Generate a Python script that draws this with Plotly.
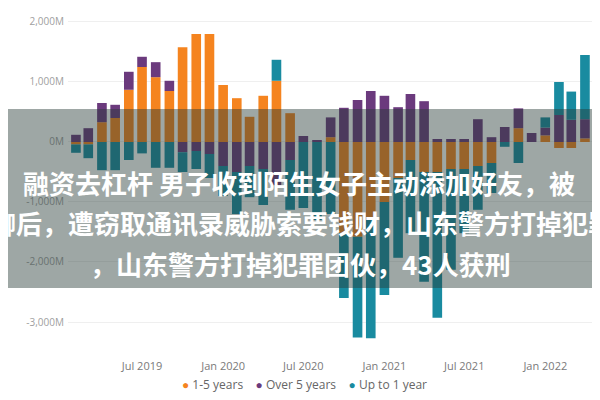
import plotly.graph_objects as go

# monthly buckets, Feb 2019 .. Apr 2022
months = ["2019-02-01", "2019-03-01", "2019-04-01", "2019-05-01", "2019-06-01",
          "2019-07-01", "2019-08-01", "2019-09-01", "2019-10-01", "2019-11-01",
          "2019-12-01", "2020-01-01", "2020-02-01", "2020-03-01", "2020-04-01",
          "2020-05-01", "2020-06-01", "2020-07-01", "2020-08-01", "2020-09-01",
          "2020-10-01", "2020-11-01", "2020-12-01", "2021-01-01", "2021-02-01",
          "2021-03-01", "2021-04-01", "2021-05-01", "2021-06-01", "2021-07-01",
          "2021-08-01", "2021-09-01", "2021-10-01", "2021-11-01", "2021-12-01",
          "2022-01-01", "2022-02-01", "2022-03-01", "2022-04-01"]

# values in millions
one_to_five = [-40, -40, 330, 400, 870, 1250, 1080, 850, 1580, 1800,
               1800, 950, 730, 420, 770, 1020, 480, 0, 0, 80,
               -1520, -1580, -1300, -1000, -600, -300, -500, -500, -450, -450,
               -400, -350, 0, 230, 0, 110, -100, -100, 60]
over_five = [120, 230, 320, 220, 300, 170, 250, 170, -170, -150,
             -200, -400, -500, -400, -450, -720, -300, 100, 20, 330,
             570, 700, 850, 770, 580, 800, 680, 50, 50, 50,
             380, 80, 250, 330, 150, 130, 450, 370, 320]
up_to_one = [-140, -230, -470, -470, -300, -190, -430, -430, -330, -300,
             -400, -500, -700, -520, -600, 350, -830, -1100, -1300, -1200,
             -1080, -1680, -1970, -1550, -1330, -1220, -1830, -2430, -1680, -1070,
             -730, -500, -80, -350, 0, 170, 550, 470, 1070]

series_names = ["1-5 years", "Over 5 years", "Up to 1 year"]
series_colours = ["#F5841F", "#6B3A7D", "#198BA0"]

y_ticks = [-3000, -2000, -1000, 0, 1000, 2000]
y_ticktext = ["{:,}M".format(v) for v in y_ticks]

title_lines = ["融资去杠杆 男子收到陌生女子主动添加好友，被",
               "聊后，遭窃取通讯录威胁索要钱财，山东警方打掉犯罪",
               "，山东警方打掉犯罪团伙，43人获刑"]


fig = go.Figure()

for name, values, colour in zip(series_names,
                                [one_to_five, over_five, up_to_one],
                                series_colours):
    fig.add_trace(go.Bar(x=months,
                         y=values,
                         name=name,
                         marker=dict(color=colour, line=dict(width=0)),
                         showlegend=False))

# the page body adds 8px of margin top/left, so the margins below allow for it
fig.update_layout(barmode="relative",
                  bargap=0.22,
                  width=600, height=400,
                  margin=dict(l=60, r=16, t=0, b=53),
                  paper_bgcolor="white",
                  plot_bgcolor="white",
                  font=dict(family="Open Sans", size=11, color="#777777"))

fig.update_xaxes(type="date",
                 range=["2019-01-14", "2022-04-17"],
                 tick0="2019-07-01",
                 dtick="M6",
                 tickformat="%b %Y",
                 showgrid=False,
                 showline=False,
                 ticks="",
                 ticklabelstandoff=3,
                 tickfont=dict(size=11, color="#7a7a7a"))

fig.update_yaxes(range=[-3550, 2233],
                 tickvals=y_ticks,
                 ticktext=y_ticktext,
                 showgrid=True,
                 gridcolor="#efefef",
                 zeroline=False,
                 showline=False,
                 ticks="",
                 ticklabelstandoff=3,
                 tickfont=dict(size=10, color="#a0a0a0"))

# grey caption band laid over the chart
fig.add_shape(type="rect", xref="paper", yref="paper",
              x0=-0.16, x1=1.05, y0=0.193, y1=0.709,
              fillcolor="rgba(40,60,55,0.45)",
              line=dict(width=0), layer="above")

for line_text, ypos, xpos in zip(title_lines, [0.496, 0.383, 0.265], [0.441, 0.447, 0.443]):
    fig.add_annotation(xref="paper", yref="paper",
                       x=xpos, y=ypos,
                       text="<b>%s</b>" % line_text,
                       showarrow=False,
                       xanchor="center", yanchor="middle",
                       font=dict(family="Noto Sans CJK SC", size=26, color="white"))

# legend drawn as a single line of coloured dots
legend_text = "    ".join('<span style="color:%s">●</span> %s' % (c, n)
                          for n, c in zip(series_names, series_colours))
fig.add_annotation(xref="paper", yref="paper",
                   x=0.452, y=-0.086,
                   text=legend_text,
                   showarrow=False,
                   xanchor="center", yanchor="middle",
                   font=dict(family="Open Sans", size=12, color="#666666"))

fig.write_html("out.html")
